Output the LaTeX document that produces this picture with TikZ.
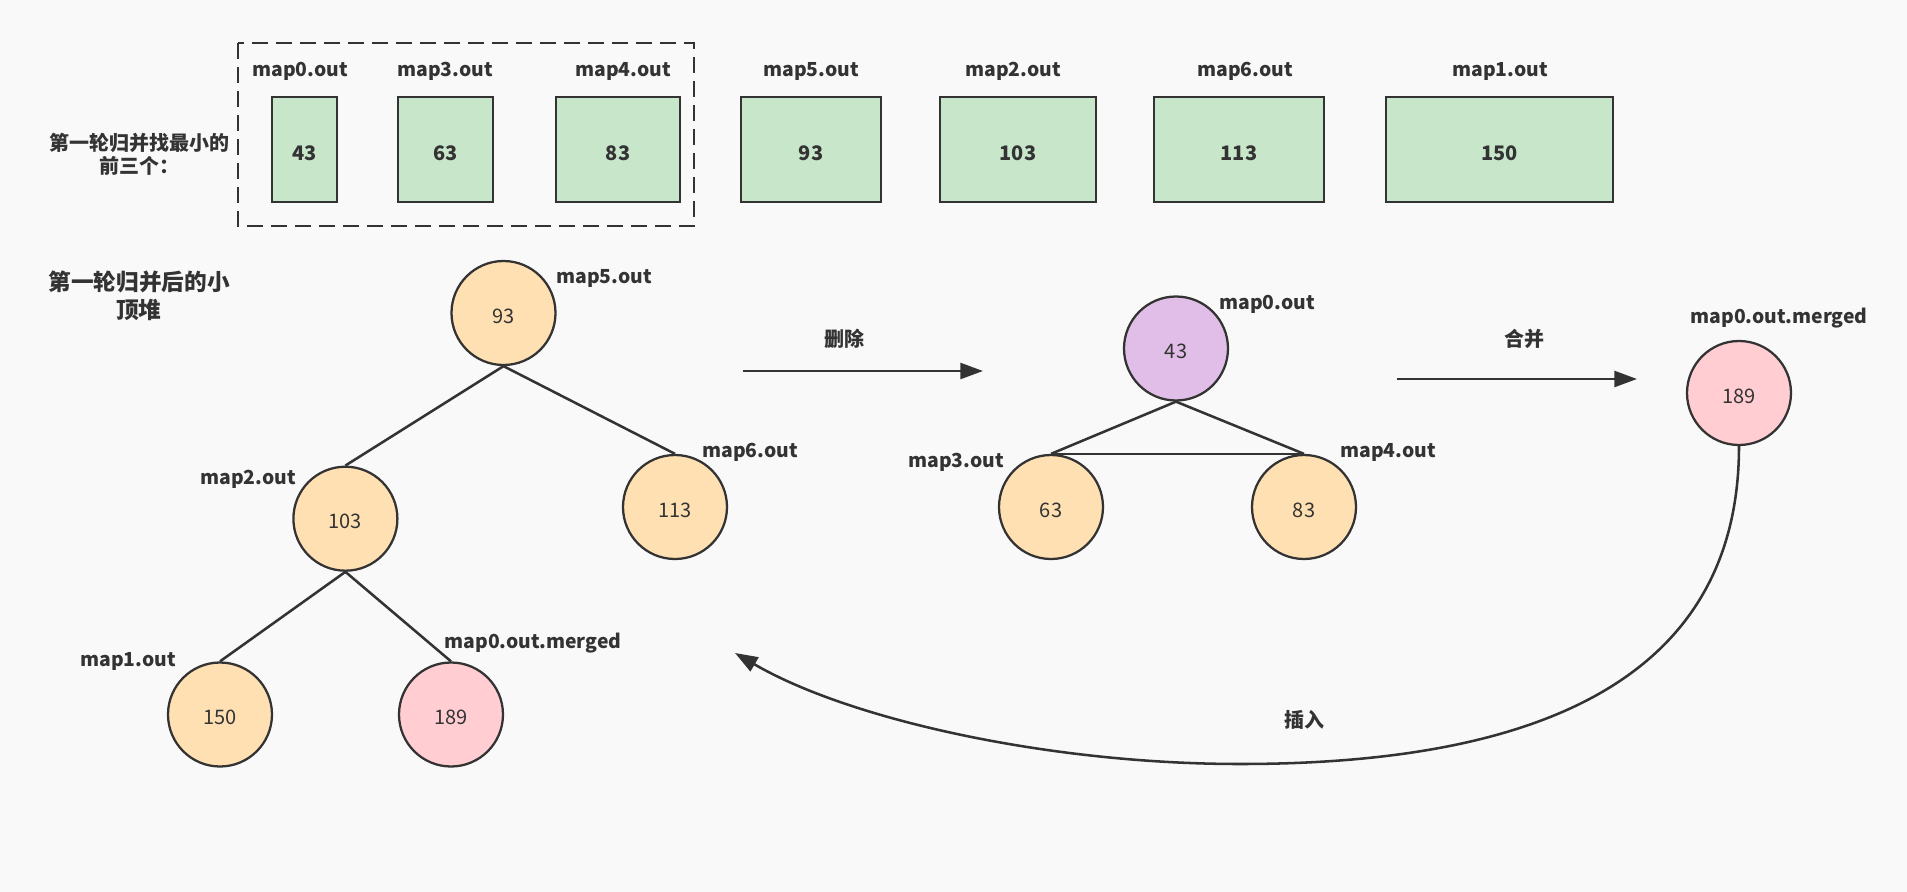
\documentclass[tikz,border=0pt]{standalone}
\usepackage{fontspec}
\setmainfont{Noto Sans CJK SC}
\usetikzlibrary{arrows.meta}
\definecolor{bg}{HTML}{F9F9F9}
\definecolor{ink}{HTML}{333333}
\definecolor{boxfill}{HTML}{C8E6C9}
\definecolor{peach}{HTML}{FFE0B2}
\definecolor{pinkf}{HTML}{FFCDD2}
\definecolor{purplef}{HTML}{E1BEE7}
\begin{document}
\begin{tikzpicture}[x=0.75pt,y=-0.75pt,
 lbl/.style={text=ink, font=\fontsize{14.5}{17.25}\selectfont\bfseries, inner sep=0, yshift=-1.6pt},
 cjklbl/.style={text=ink, font=\fontsize{15}{17.25}\selectfont\bfseries, inner sep=0, yshift=-1.2pt},
 valbox/.style={draw=ink, line width=2.1pt, fill=boxfill, minimum height=78.75pt, inner sep=0, text=ink, text height=16pt, text depth=0pt, font=\fontsize{15}{18}\selectfont\bfseries},
 heapnode/.style={circle, draw=ink, line width=1.7pt, minimum size=78pt, inner sep=0, text=ink, text height=15pt, text depth=0pt, font=\fontsize{15}{18}\selectfont},
 edge/.style={draw=ink, line width=1.9pt},
 arr/.style={draw=ink, line width=1.9pt, -{Triangle[length=17pt,width=12pt]}},
 groupframe/.style={draw=ink, line width=2.1pt, dash pattern=on 12pt off 6pt}
]
\fill[bg] (0,0) rectangle (1907,892);
\useasboundingbox (0,0) rectangle (1907,892);

% top row
\node[cjklbl, align=center] (t1) at (139,152.5) {第一轮归并找最小的\\前三个：};
\draw[groupframe] (238,43) rectangle (694,226);

\node[valbox, minimum width=48.75pt] (b43) at (304.5,149.5) {43};
\node[valbox, minimum width=71.25pt] (b63) at (445.5,149.5) {63};
\node[valbox, minimum width=93pt] (b83) at (618,149.5) {83};
\node[valbox, minimum width=105pt] (b93) at (811,149.5) {93};
\node[valbox, minimum width=117pt] (b103) at (1018,149.5) {103};
\node[valbox, minimum width=127.5pt] (b113) at (1239,149.5) {113};
\node[valbox, minimum width=170.25pt] (b150) at (1499.5,149.5) {150};

\node[lbl] (lb43) at (300,69) {map0.out};
\node[lbl] (lb63) at (445,69) {map3.out};
\node[lbl] (lb83) at (623,69) {map4.out};
\node[lbl] (lb93) at (811,69) {map5.out};
\node[lbl] (lb103) at (1013,69) {map2.out};
\node[lbl] (lb113) at (1245,69) {map6.out};
\node[lbl] (lb150) at (1500,69) {map1.out};

% heap after first round
\node[cjklbl, align=center, font=\fontsize{17}{21}\selectfont\bfseries] (t2) at (139,294) {第一轮归并后的小\\顶堆};

\node[heapnode, fill=peach] (h93) at (503.5,313) {93};
\node[heapnode, fill=peach] (h103) at (345.4,518.7) {103};
\node[heapnode, fill=peach] (h113) at (675,507) {113};
\node[heapnode, fill=peach] (h150) at (220,714.5) {150};
\node[heapnode, fill=pinkf] (h189) at (451,714.5) {189};

\node[lbl] (lh93) at (604,276) {map5.out};
\node[lbl] (lh103) at (248,477) {map2.out};
\node[lbl] (lh113) at (750,450) {map6.out};
\node[lbl] (lh150) at (128,659) {map1.out};
\node[lbl] (lh189) at (533,641) {map0.out.merged};

\draw[edge] (h93.south) -- (h103.north);
\draw[edge] (h93.south) -- (h113.north);
\draw[edge] (h103.south) -- (h150.north);
\draw[edge] (h103.south) -- (h189.north);

% delete
\coordinate (d1) at (743,371);
\coordinate (d2) at (983,371);
\draw[arr] (d1) -- (d2);
\node[cjklbl] (ldel) at (844,337) {删除};

\node[heapnode, fill=purplef] (p43) at (1176,348.5) {43};
\node[heapnode, fill=peach] (p63) at (1051,507) {63};
\node[heapnode, fill=peach] (p83) at (1304,507) {83};
\node[lbl] (lp43) at (1267,302) {map0.out};
\node[lbl] (lp63) at (956,460) {map3.out};
\node[lbl] (lp83) at (1388,450) {map4.out};
\draw[edge] (p43.south) -- (p63.north);
\draw[edge] (p43.south) -- (p83.north);
\draw[edge] (p63.north) -- (p83.north);

% merge
\coordinate (m1) at (1397,379);
\coordinate (m2) at (1637,379);
\draw[arr] (m1) -- (m2);
\node[cjklbl] (lmerge) at (1524,337) {合并};

\node[heapnode, fill=pinkf] (r189) at (1739,393) {189};
\node[lbl] (lr189) at (1779,316) {map0.out.merged};

% insert
\coordinate (lowpt) at (1240,764);
\coordinate (ins) at (735,653);
\draw[arr] (r189.south) .. controls (1739,700) and (1500,764) .. (lowpt)
  .. controls (1050,764) and (850,720) .. (ins);
\node[cjklbl] (lins) at (1304,718) {插入};
\end{tikzpicture}
\end{document}
